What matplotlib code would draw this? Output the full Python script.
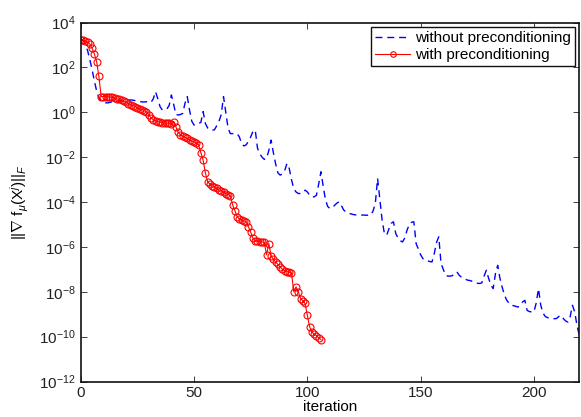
import numpy as np
import matplotlib.pyplot as plt
from matplotlib.ticker import NullLocator, FixedLocator

plt.rcParams['font.family'] = ['Liberation Sans', 'DejaVu Sans']
plt.rcParams['mathtext.fontset'] = 'custom'
plt.rcParams['mathtext.rm'] = 'Liberation Sans'
plt.rcParams['mathtext.it'] = 'Liberation Sans:italic'
plt.rcParams['mathtext.sf'] = 'Liberation Sans'

# log10 of the gradient norm per iteration
log_without = [
    3.23, 3.22, 3.05, 2.75, 2.35, 1.9, 1.4, 0.95, 0.65, 0.5,
    0.45, 0.42, 0.42, 0.45, 0.47, 0.48, 0.5, 0.5, 0.52, 0.52,
    0.53, 0.55, 0.55, 0.54, 0.52, 0.5, 0.48, 0.46, 0.46, 0.47,
    0.45, 0.44, 0.6, 0.92, 0.6, 0.25, 0.1, 0.12, 0.15, 0.3,
    0.77, 0.35, -0.1, -0.12, -0.1, -0.05, 0.4, 0.70, 0.1, -0.4,
    -0.57, -0.55, -0.5, -0.45, 0.03, -0.5, -0.7, -0.78, -0.8, -0.78,
    -0.6, -0.4, -0.1, 0.70, 0.0, -0.7, -0.95, -0.95, -0.95, -0.95,
    -1.1, -1.4, -1.5, -1.45, -1.3, -1.1, -0.85, -0.79, -1.6, -1.85,
    -2.0, -2.1, -2.05, -1.7, -1.24, -1.8, -2.3, -2.7, -2.8, -2.75,
    -2.6, -2.28, -2.5, -3.0, -3.4, -3.55, -3.62, -3.62, -3.58, -3.47,
    -3.55, -3.7, -3.77, -3.77, -3.7, -3.2, -2.65, -3.3, -3.9, -4.2,
    -4.29, -4.25, -4.15, -4.05, -3.99, -4.15, -4.35, -4.44, -4.5, -4.52,
    -4.55, -4.57, -4.58, -4.58, -4.58, -4.58, -4.59, -4.58, -4.58, -4.4,
    -4.06, -2.95, -3.9, -4.81, -5.4, -5.48, -5.2, -4.95, -4.88, -5.4,
    -5.6, -5.72, -5.78, -5.6, -5.25, -5.0, -4.9, -4.88, -5.85, -6.1,
    -6.35, -6.52, -6.6, -6.62, -6.65, -6.67, -6.3, -5.8, -5.55, -6.74,
    -7.0, -7.26, -7.3, -7.3, -7.28, -7.2, -7.11, -7.26, -7.35, -7.4,
    -7.45, -7.49, -7.5, -7.55, -7.6, -7.62, -7.63, -7.6, -7.3, -7.04,
    -7.4, -7.7, -7.86, -7.2, -6.82, -7.4, -7.8, -8.15, -8.38, -8.5,
    -8.6, -8.62, -8.65, -8.68, -8.6, -8.45, -8.38, -8.83, -8.88, -8.9,
    -8.9, -8.5, -7.86, -8.6, -8.95, -9.1, -9.15, -9.19, -9.19, -9.2,
    -9.19, -9.1, -9.05, -9.2, -9.3, -9.35, -9.1, -8.6, -8.9, -9.5,
    -9.94,
]

log_with = [
    3.23, 3.23, 3.18, 3.12, 3.04, 2.85, 2.6, 2.25, 1.6, 0.70,
    0.70, 0.70, 0.69, 0.68, 0.66, 0.63, 0.60, 0.57, 0.53, 0.49,
    0.44, 0.38, 0.34, 0.30, 0.25, 0.20, 0.16, 0.12, 0.07, 0.02,
    -0.10, -0.25, -0.33, -0.38, -0.42, -0.44, -0.46, -0.47, -0.48, -0.50,
    -0.53, -0.42, -0.65, -0.90, -1.00, -1.07, -1.12, -1.16, -1.22, -1.28,
    -1.32, -1.36, -1.45, -1.80, -2.13, -2.70, -3.10, -3.20, -3.28, -3.33,
    -3.38, -3.45, -3.50, -3.55, -3.62, -3.67, -3.72, -4.12, -4.38, -4.65,
    -4.75, -4.80, -4.84, -4.88, -5.10, -5.35, -5.62, -5.72, -5.75, -5.76,
    -5.78, -5.80, -6.35, -5.85, -6.40, -6.55, -6.67, -6.78, -6.90, -7.00,
    -7.06, -7.10, -7.13, -7.15, -8.00, -7.78, -8.00, -8.30, -8.40, -8.52,
    -9.05, -9.55, -9.80, -9.88, -9.95, -10.05, -10.13,
]

it_without = np.arange(len(log_without))
it_with = np.arange(len(log_with))

fig = plt.figure(figsize=(5.81, 4.17), dpi=100)
ax = fig.add_axes([0.139, 0.085, 0.858, 0.861])

ax.semilogy(it_without, 10.0 ** np.array(log_without), '--', color='b',
            linewidth=1.0, dashes=(5, 3.5), label='without preconditioning')
ax.semilogy(it_with, 10.0 ** np.array(log_with), '-o', color='r',
            linewidth=0.8, markersize=5, markerfacecolor='none',
            markeredgewidth=0.8, label='with preconditioning')

ax.set_xlim(0, 220)
ax.set_ylim(1e-12, 1e4)
ax.yaxis.set_major_locator(FixedLocator([10.0 ** k for k in range(-12, 5, 2)]))
ax.yaxis.set_minor_locator(NullLocator())
ax.set_xticks([0, 50, 100, 150, 200])

ax.tick_params(direction='in', top=True, right=True, length=4, width=0.6,
               labelsize=11, colors='#222222')
for s in ax.spines.values():
    s.set_linewidth(1.2)
    s.set_color('#111111')

ax.set_xlabel('iteration', fontsize=11, labelpad=0)
ax.set_ylabel(r'$||\nabla$ f$_\mu$(X$^j$)$||_F$', fontsize=11, labelpad=6)

leg = ax.legend(loc='upper right', fontsize=11, fancybox=False, framealpha=1,
                edgecolor='#111111', borderpad=0.25, labelspacing=0.2,
                handlelength=2.3, handletextpad=0.3, borderaxespad=0.3,
                markerscale=0.8)
leg.get_frame().set_linewidth(1.0)

fig.savefig('out.png', dpi=100)
